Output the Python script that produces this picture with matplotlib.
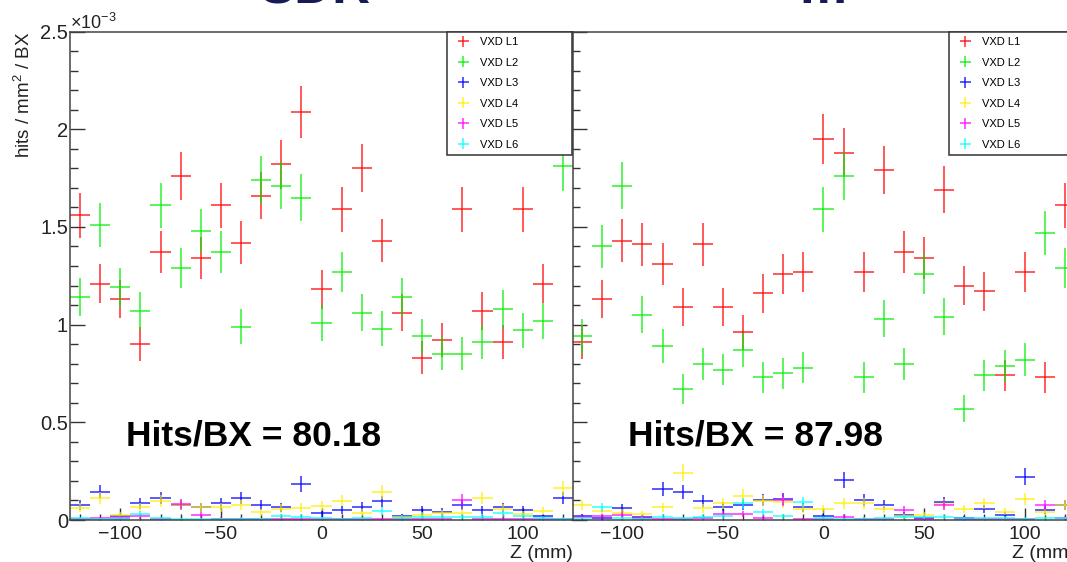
import numpy as np
import matplotlib.pyplot as plt
from matplotlib.ticker import MultipleLocator, FuncFormatter

plt.rcParams['font.family'] = ['Liberation Sans', 'DejaVu Sans']
plt.rcParams['mathtext.fontset'] = 'custom'
plt.rcParams['mathtext.rm'] = 'Liberation Sans'
plt.rcParams['mathtext.it'] = 'Liberation Sans:italic'
plt.rcParams['mathtext.bf'] = 'Liberation Sans:bold'

# bin centres (mm), bin width 10 mm
z = np.arange(-120, 121, 10)

# hits / mm^2 / BX in units of 1e-3
left_l1 = [1.56, 1.21, 1.13, 0.90, 1.37, 1.76, 1.34, 1.61, 1.42, 1.66, 1.82, 2.09, 1.18,
           1.59, 1.80, 1.43, 1.06, 0.83, 0.92, 1.59, 1.07, 0.91, 1.59, 1.21, 2.30]
left_l2 = [1.14, 1.51, 1.19, 1.07, 1.61, 1.29, 1.48, 1.37, 0.99, 1.74, 1.71, 1.65, 1.01,
           1.27, 1.06, 0.98, 1.14, 0.94, 0.85, 0.85, 0.91, 1.08, 0.97, 1.02, 1.81]
left_l3 = [0.077, 0.145, 0.020, 0.085, 0.114, 0.075, 0.065, 0.085, 0.114, 0.075, 0.065, 0.184, 0.034,
           0.051, 0.067, 0.096, 0.020, 0.051, 0.043, 0.075, 0.051, 0.065, 0.051, 0.020, 0.111]
left_l4 = [0.063, 0.111, 0.026, 0.065, 0.097, 0.075, 0.065, 0.065, 0.075, 0.039, 0.058, 0.063, 0.072,
           0.099, 0.038, 0.145, 0.015, 0.026, 0.034, 0.038, 0.111, 0.058, 0.031, 0.048, 0.162]
left_l5 = [0.005, 0.008, 0.012, 0.020, 0.006, 0.080, 0.026, 0.006, 0.006, 0.005, 0.004, 0.004, 0.003,
           0.003, 0.005, 0.004, 0.006, 0.004, 0.005, 0.102, 0.005, 0.006, 0.004, 0.005, 0.005]
left_l6 = [0.009, 0.004, 0.006, 0.029, 0.008, 0.003, 0.004, 0.003, 0.006, 0.003, 0.020, 0.017, 0.009,
           0.004, 0.008, 0.048, 0.010, 0.017, 0.014, 0.017, 0.017, 0.034, 0.020, 0.010, 0.006]

right_l1 = [0.91, 1.13, 1.43, 1.41, 1.31, 1.09, 1.41, 1.09, 0.96, 1.16, 1.26, 1.27, 1.95,
            1.88, 1.27, 1.79, 1.37, 1.34, 1.69, 1.20, 1.17, 0.74, 1.27, 0.73, 1.61]
right_l2 = [0.94, 1.40, 1.71, 1.05, 0.89, 0.67, 0.80, 0.77, 0.87, 0.73, 0.75, 0.78, 1.59,
            1.76, 0.73, 1.03, 0.80, 1.26, 1.04, 0.57, 0.74, 0.79, 0.82, 1.47, 1.29]
right_l3 = [0.020, 0.010, 0.060, 0.015, 0.159, 0.145, 0.097, 0.068, 0.075, 0.102, 0.106, 0.065, 0.020,
            0.205, 0.102, 0.075, 0.026, 0.010, 0.092, 0.010, 0.055, 0.026, 0.222, 0.051, 0.075]
right_l4 = [0.075, 0.048, 0.038, 0.031, 0.065, 0.243, 0.060, 0.085, 0.125, 0.099, 0.090, 0.058, 0.056,
            0.085, 0.085, 0.055, 0.020, 0.026, 0.080, 0.055, 0.085, 0.043, 0.106, 0.040, 0.075]
right_l5 = [0.017, 0.020, 0.026, 0.010, 0.006, 0.004, 0.008, 0.029, 0.029, 0.010, 0.102, 0.004, 0.003,
            0.017, 0.006, 0.005, 0.051, 0.004, 0.075, 0.004, 0.005, 0.006, 0.004, 0.077, 0.010]
right_l6 = [0.008, 0.065, 0.008, 0.006, 0.017, 0.008, 0.017, 0.020, 0.085, 0.039, 0.020, 0.092, 0.010,
            0.005, 0.006, 0.008, 0.017, 0.014, 0.017, 0.008, 0.008, 0.010, 0.006, 0.008, 0.008]

labels = ['VXD L1', 'VXD L2', 'VXD L3', 'VXD L4', 'VXD L5', 'VXD L6']
colors = ['#ff0000', '#00ee00', '#0000ff', '#ffee00', '#ff00ff', '#00ffff']
hits_text = ['Hits/BX = 80.18', 'Hits/BX = 87.98']

W, H = 1067, 562
fig = plt.figure(figsize=(W / 100, H / 100), dpi=100)

def px_box(x0, x1, ytop, ybot):
    return [x0 / W, 1 - ybot / H, (x1 - x0) / W, (ybot - ytop) / H]

ax_r = fig.add_axes(px_box(572, 1075, 31.5, 520))
ax_l = fig.add_axes(px_box(70, 573, 31.5, 520))

panels = [(ax_l, [left_l1, left_l2, left_l3, left_l4, left_l5, left_l6], hits_text[0]),
          (ax_r, [right_l1, right_l2, right_l3, right_l4, right_l5, right_l6], hits_text[1])]

for ax, series, txt in panels:
    for vals, lab, col in zip(series, labels, colors):
        v = np.array(vals)
        # poisson-like errors, same relative size as in the ROOT plot
        ax.errorbar(z, v, xerr=5, yerr=0.092 * np.sqrt(v), fmt='none', ecolor=col,
                    elinewidth=1.4, alpha=0.65, capsize=0, label=lab)
    ax.set_xlim(-125, 125)
    ax.set_ylim(0, 2.5)
    ax.xaxis.set_major_locator(MultipleLocator(50))
    ax.xaxis.set_minor_locator(MultipleLocator(10))
    ax.yaxis.set_major_locator(MultipleLocator(0.5))
    ax.yaxis.set_minor_locator(MultipleLocator(0.1))
    ax.yaxis.set_major_formatter(FuncFormatter(lambda v, p: '%g' % v))
    ax.tick_params(axis='x', which='major', direction='in', length=9, width=1, color='#333333',
                   labelsize=14, pad=4, labelcolor='#222222')
    ax.tick_params(axis='x', which='minor', direction='in', length=4.5, width=1, color='#333333')
    ax.tick_params(axis='y', which='major', direction='in', length=11, width=1, color='#333333',
                   labelsize=14.5, pad=1.5, labelcolor='#222222')
    ax.tick_params(axis='y', which='minor', direction='in', length=5.5, width=1, color='#333333')
    for s in ax.spines.values():
        s.set_color('#444444')
        s.set_linewidth(1.1)
    ax.text(1.0, -0.068, 'Z (mm)', transform=ax.transAxes, ha='right', va='center',
            fontsize=14, color='#222222')
    ax.text(-97, 0.43, txt, ha='left', va='center', fontsize=25.5, fontweight='bold')
    leg = ax.legend(loc='upper left', bbox_to_anchor=(0.7495, 0, 0.2485, 1.0), mode='expand',
                    borderaxespad=0, fontsize=8, handlelength=1.9, handletextpad=0.55,
                    labelspacing=0.95, borderpad=0.5, fancybox=False, framealpha=1)
    leg.get_frame().set_edgecolor('#333333')
    leg.get_frame().set_linewidth(1.1)

ax_r.tick_params(axis='y', labelleft=False)

# y axis title and exponent of the left panel
fig.text(24 / W, 1 - 32 / H, 'hits / mm$^2$ / BX', rotation=90, ha='center', va='top',
         fontsize=13.5, color='#222222')
fig.text(70 / W, 1 - 29 / H, r'$\times10^{-3}$', ha='left', va='baseline', fontsize=13,
         color='#222222')

# slide titles cut off at the top edge
fig.text(315 / W, 1 - 3 / H, 'SDR', ha='center', va='baseline', fontsize=38,
         fontweight='bold', color='#161b56')
fig.text(823 / W, 1 - 3 / H, 'm', ha='center', va='baseline', fontsize=38,
         fontweight='bold', color='#161b56')

fig.savefig('out.png', dpi=100)
